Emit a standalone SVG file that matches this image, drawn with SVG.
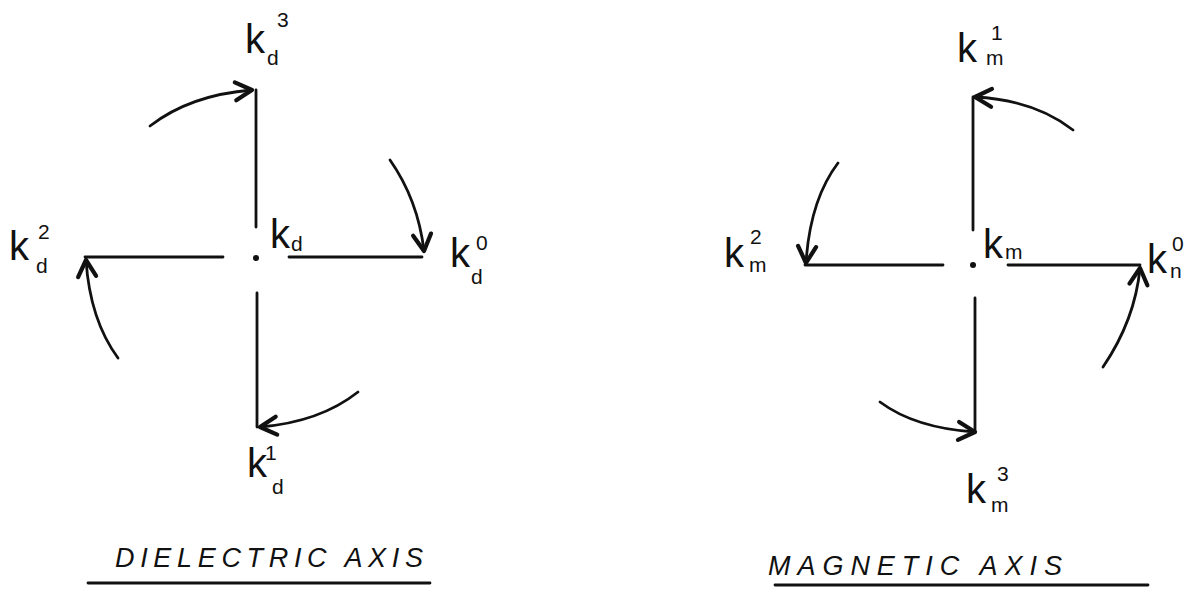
<svg xmlns="http://www.w3.org/2000/svg" width="1198" height="593" viewBox="0 0 1198 593">
<style>
.ln{fill:none;stroke:#111;stroke-width:2.8;stroke-linecap:round}
.arc{fill:none;stroke:#111;stroke-width:2.8;stroke-linecap:round;marker-end:url(#ah)}
.k{font-family:"Liberation Sans",sans-serif;font-size:40px;fill:#111}
.s{font-family:"Liberation Sans",sans-serif;font-size:21px;fill:#111}
.t{font-family:"Liberation Sans",sans-serif;font-style:italic;font-size:27px;fill:#111}
</style>
<defs>
<marker id="ah" markerUnits="userSpaceOnUse" markerWidth="24" markerHeight="24" viewBox="-14 -8 16 16" refX="0" refY="0" orient="auto">
<path d="M-11,-6 L0,0 L-11,6" fill="none" stroke="#111" stroke-width="2.8" stroke-linecap="round" stroke-linejoin="round"/>
</marker>
</defs>
<g id="dielectric-axes">
<path class="ln" d="M256,90 L256,227"/>
<path class="ln" d="M257,293 L257,427"/>
<path class="ln" d="M85,257 L223,257"/>
<path class="ln" d="M289,257 L422,257"/>
<circle cx="256" cy="258" r="3" fill="#111"/>
</g>
<g id="magnetic-axes">
<path class="ln" d="M973,97 L973,230"/>
<path class="ln" d="M975,298 L975,432"/>
<path class="ln" d="M805,265 L943,265"/>
<path class="ln" d="M1008,265 L1140,265"/>
<circle cx="973" cy="265" r="3" fill="#111"/>
</g>
<g id="connectors">
<path class="arc" d="M150,126 Q190,95 252,90"/>
<path class="arc" d="M390,160 Q418,200 424,251"/>
<path class="arc" d="M358,392 Q320,422 260,427"/>
<path class="arc" d="M118,358 Q90,320 86,260"/>
<path class="arc" d="M1073,130 Q1035,100 975,97"/>
<path class="arc" d="M838,163 Q810,200 806,263"/>
<path class="arc" d="M880,402 Q915,428 975,432"/>
<path class="arc" d="M1103,367 Q1135,320 1140,268"/>
</g>
<g id="label-kd3"><text class="k" x="245" y="53">k</text><text class="s" x="277" y="27">3</text><text class="s" x="267" y="65">d</text></g>
<g id="label-kd2"><text class="k" x="9" y="260">k</text><text class="s" x="38" y="239">2</text><text class="s" x="36" y="273">d</text></g>
<g id="label-kd"><text class="k" x="270" y="248">k</text><text class="s" x="291" y="251">d</text></g>
<g id="label-kd0"><text class="k" x="450" y="267">k</text><text class="s" x="476" y="250">0</text><text class="s" x="471" y="284">d</text></g>
<g id="label-kd1"><text class="k" x="247" y="477">k</text><text class="s" x="265" y="460">1</text><text class="s" x="272" y="494">d</text></g>
<g id="title-dielectric"><text class="t" x="115" y="567" textLength="308" lengthAdjust="spacing">DIELECTRIC AXIS</text><path class="ln" d="M88,583 L430,583"/></g>
<g id="label-km1"><text class="k" x="957" y="62">k</text><text class="s" x="991" y="40">1</text><text class="s" x="986" y="65">m</text></g>
<g id="label-km2"><text class="k" x="724" y="267">k</text><text class="s" x="750" y="244">2</text><text class="s" x="749" y="272">m</text></g>
<g id="label-km"><text class="k" x="983" y="258">k</text><text class="s" x="1005" y="259">m</text></g>
<g id="label-kn0"><text class="k" x="1147" y="273">k</text><text class="s" x="1172" y="251">0</text><text class="s" x="1170" y="278">n</text></g>
<g id="label-km3"><text class="k" x="966" y="503">k</text><text class="s" x="997" y="481">3</text><text class="s" x="991" y="512">m</text></g>
<g id="title-magnetic"><text class="t" x="768" y="575" textLength="294" lengthAdjust="spacing">MAGNETIC AXIS</text><path class="ln" d="M775,585 L1148,585"/></g>
</svg>
